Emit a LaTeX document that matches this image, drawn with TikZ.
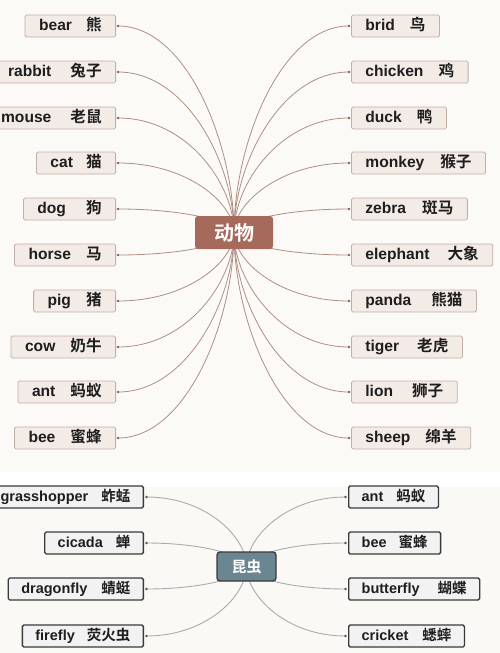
\documentclass[tikz,border=0pt]{standalone}
\usepackage{fontspec}
\setmainfont{Liberation Sans}
\newfontfamily\cjk{Noto Sans CJK SC}[BoldFont={Noto Sans CJK SC Bold}]
\usetikzlibrary{calc}
\pgfdeclarelayer{bg}
\pgfdeclarelayer{lines}
\pgfsetlayers{bg,lines,main}
\definecolor{bgTop}{HTML}{FCFAF7}
\definecolor{bgBot}{HTML}{FAF9F5}
\definecolor{tboxFill}{HTML}{F3EBE6}
\definecolor{tboxDraw}{HTML}{C5AEA5}
\definecolor{tline}{HTML}{AF8E85}
\definecolor{tdot}{HTML}{8E5D53}
\definecolor{tcenter}{HTML}{A66A5D}
\definecolor{bboxFill}{HTML}{F2F2F2}
\definecolor{bboxDraw}{HTML}{3A3A3A}
\definecolor{bline}{HTML}{ABABAB}
\definecolor{bdot}{HTML}{555555}
\definecolor{bcenter}{HTML}{6C8691}
\definecolor{txt}{HTML}{1E1E1E}
\newcommand\mmlab[3]{#1\hspace{#3pt}{\cjk #2}}
\begin{document}
\begin{tikzpicture}[x=1pt,y=-1pt,
  tbox/.style={draw=tboxDraw, fill=tboxFill, line width=0.8pt, rounded corners=1.5pt,
    minimum height=22pt, inner xsep=14pt, inner ysep=0pt, text height=12pt, text depth=3pt,
    font=\fontsize{15.6}{18}\selectfont\bfseries, text=txt},
  bbox/.style={draw=bboxDraw, fill=bboxFill, line width=1.3pt, rounded corners=1.5pt,
    minimum height=22pt, inner xsep=13pt, inner ysep=0pt, text height=11pt, text depth=3pt,
    font=\fontsize{14.5}{17}\selectfont\bfseries, text=txt},
  tcen/.style={fill=tcenter, rounded corners=3pt, minimum width=78pt, minimum height=33pt,
    inner sep=0pt, text=white, font=\cjk\fontsize{20}{24}\selectfont\bfseries},
  bcen/.style={fill=bcenter, draw=bboxDraw, line width=1.3pt, rounded corners=3pt,
    minimum width=59pt, minimum height=29pt, inner sep=0pt, text=white,
    font=\cjk\fontsize{15}{18}\selectfont\bfseries},
  tln/.style={draw=tline, line width=0.8pt},
  bln/.style={draw=bline, line width=0.9pt},
  mm/.style={to path={.. controls ($(\tikztostart)!0.42!(\tikztostart|-\tikztotarget)$)
     and ($(\tikztotarget)!0.6!(\tikztotarget-|\tikztostart)$) .. (\tikztotarget)}}
]
\useasboundingbox (0,0) rectangle (500,653);
\begin{pgfonlayer}{bg}
  \fill[bgTop] (0,0) rectangle (500,472);
  \fill[white] (0,472) rectangle (500,487);
  \fill[bgBot] (0,487) rectangle (500,653);
\end{pgfonlayer}

% ---------- top map ----------
\node[tcen] (animal) at (234,232.5) {动物};
\foreach \n/\e/\c/\g/\y in {lbear/bear/熊/14/26, lrabbit/rabbit/兔子/19/72, lmouse/mouse/老鼠/19/118,
   lcat/cat/猫/13/163, ldog/dog/狗/20/209, lhorse/horse/马/15/255, lpig/pig/猪/15/301,
   lcow/cow/奶牛/15/347, lant/ant/蚂蚁/15/392, lbee/bee/蜜蜂/15/438}{
  \node[tbox, anchor=east] (\n) at (116,\y) {\mmlab{\e}{\c}{\g}};
  \coordinate (\n D) at ([xshift=2]\n.east);
  \fill[tdot] (\n D) circle (1.4);
  \begin{pgfonlayer}{lines}
    \draw[tln] (animal.center) to[mm] (\n D);
  \end{pgfonlayer}
}
\foreach \n/\e/\c/\g/\y in {rbrid/brid/鸟/15/26, rchicken/chicken/鸡/15/72, rduck/duck/鸭/15/118,
   rmonkey/monkey/猴子/16/163, rzebra/zebra/斑马/16/209, relephant/elephant/大象/18/255,
   rpanda/panda/熊猫/20/301, rtiger/tiger/老虎/18/347, rlion/lion/狮子/19/392, rsheep/sheep/绵羊/15/438}{
  \node[tbox, anchor=west] (\n) at (351,\y) {\mmlab{\e}{\c}{\g}};
  \coordinate (\n D) at ([xshift=-2]\n.west);
  \fill[tdot] (\n D) circle (1.4);
  \begin{pgfonlayer}{lines}
    \draw[tln] (animal.center) to[mm] (\n D);
  \end{pgfonlayer}
}

% ---------- bottom map ----------
\node[bcen] (insect) at (246.5,566.5) {昆虫};
\foreach \n/\e/\c/\g/\y in {bgrass/grasshopper/蚱蜢/13/497, bcicada/cicada/蝉/13/543,
   bdragon/dragonfly/蜻蜓/14/589, bfirefly/firefly/荧火虫/12/636}{
  \node[bbox, anchor=east] (\n) at (144,\y) {\mmlab{\e}{\c}{\g}};
  \coordinate (\n D) at ([xshift=2.5]\n.east);
  \fill[bdot] (\n D) circle (1.4);
  \begin{pgfonlayer}{lines}
    \draw[bln] (insect.center) to[mm] (\n D);
  \end{pgfonlayer}
}
\foreach \n/\e/\c/\g/\y in {bant/ant/蚂蚁/13/497, bbee/bee/蜜蜂/12/543,
   bbutter/butterfly/蝴蝶/18/589, bcricket/cricket/蟋蟀/14/636}{
  \node[bbox, anchor=west] (\n) at (348,\y) {\mmlab{\e}{\c}{\g}};
  \coordinate (\n D) at ([xshift=-2.5]\n.west);
  \fill[bdot] (\n D) circle (1.4);
  \begin{pgfonlayer}{lines}
    \draw[bln] (insect.center) to[mm] (\n D);
  \end{pgfonlayer}
}
\end{tikzpicture}
\end{document}
